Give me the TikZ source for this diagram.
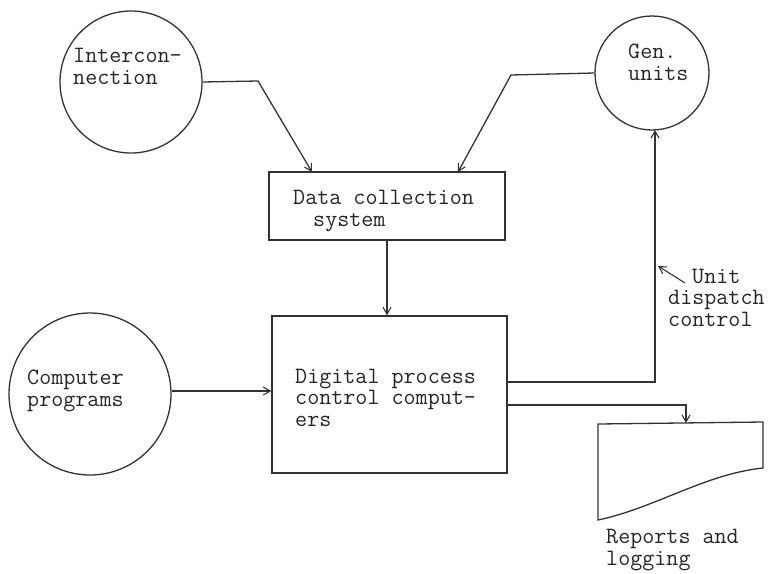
\documentclass[tikz,border=0pt]{standalone}
\usepackage{fontspec}
\usetikzlibrary{arrows.meta}
\tikzset{
  ink/.style={draw=black!80, line width=1.3pt},
  flow/.style={ink, -{Straight Barb[length=7pt,width=8pt,line width=1.1pt]}},
  source/.style={ink, circle, inner sep=0pt},
  unitbox/.style={ink, rectangle, inner sep=0pt},
  typed/.style={font=\ttfamily\fontsize{23.4}{21.5}\selectfont, text=black!85,
                inner sep=0pt, anchor=base west, align=left},
}
\begin{document}
\begin{tikzpicture}[x=1pt, y=-1pt]
  \useasboundingbox (0,0) rectangle (775,573);

  % sources
  \node[source, minimum size=142pt] (ic) at (131,82) {};
  \node[source, minimum size=114pt] (gu) at (652,73) {};
  \node[source, minimum size=162pt] (cp) at (90,394) {};

  % processing blocks
  \node[unitbox, minimum width=236pt, minimum height=68pt] (dcs) at (387,206) {};
  \node[unitbox, minimum width=235pt, minimum height=157pt] (dpc) at (389.5,394.5) {};

  % report sheet with a curved lower edge
  \coordinate (rtl) at (598,424);
  \coordinate (rtr) at (763,422);
  \coordinate (rbr) at (763,468);
  \coordinate (rbl) at (598,520);
  \draw[ink] (rtl) -- (rtr) -- (rbr)
    .. controls (705,474) and (655,508) .. (rbl) -- cycle;
  \coordinate (rep) at (686,423);

  % texts (the base anchor sits on the last line)
  \node[typed] (tic) at (73,84) {Intercon-\\nection};
  \node[typed] (tgu) at (628,80) {Gen.\\units};
  \node[typed] (tcp) at (27,406) {Computer\\programs};
  \node[typed] (tdcs) at (293,226) {Data collection\\\hspace*{20pt}system};
  \node[typed] (tdpc) at (295,426) {Digital process\\control comput-\\ers};
  \node[typed] (tunit) at (692,283) {Unit};
  \node[typed] (tdisp) at (668,326) {dispatch\\control};
  \node[typed] (trep) at (606,565) {Reports and\\logging};

  % connectors
  \coordinate (icbend) at (258,81);
  \coordinate (icend) at (312,172);
  \draw[flow] (ic.east) -- (icbend) -- (icend);

  \coordinate (gubend) at (511,75);
  \coordinate (guend) at (458,172);
  \draw[flow] (gu.west) -- (gubend) -- (guend);

  \draw[flow] (dcs.south) -- (dcs.south |- dpc.north);
  \draw[flow] (cp.east |- 0,391) -- (dpc.west |- 0,391);

  \coordinate (ctlcorner) at (655,382);
  \draw[flow] (dpc.east |- ctlcorner) -- (ctlcorner) -- (655,130);

  \coordinate (repcorner) at (686,405);
  \draw[flow] (dpc.east |- repcorner) -- (repcorner) -- (rep);

  \coordinate (unitptr) at (658,266);
  \coordinate (unittail) at (685,283);
  \draw[flow, line width=1.1pt] (unittail) -- (unitptr);
\end{tikzpicture}
\end{document}
